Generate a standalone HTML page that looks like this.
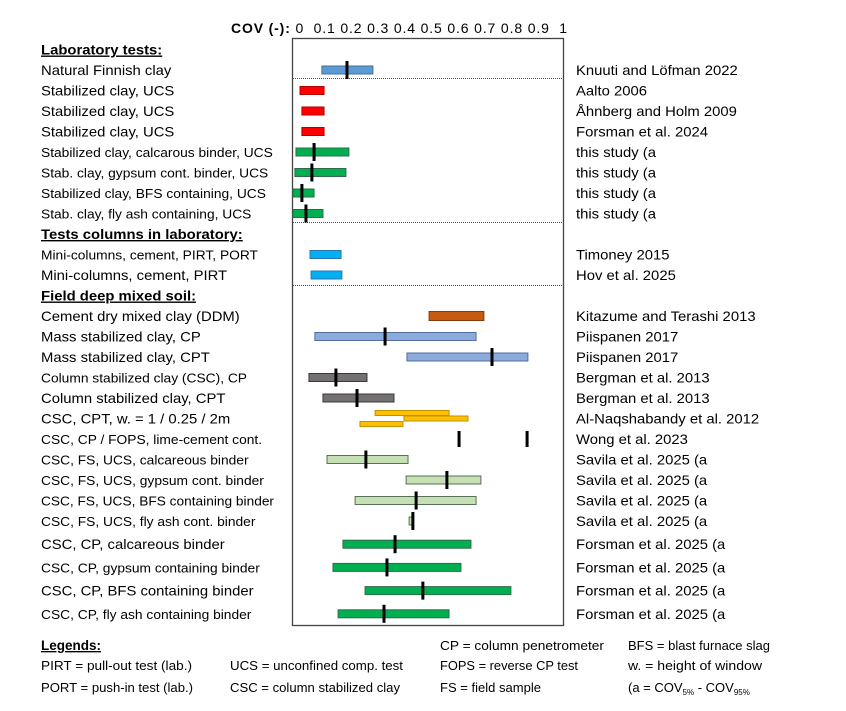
<!DOCTYPE html>
<html><head><meta charset="utf-8"><style>
html,body{margin:0;padding:0;background:#fff;}
svg{display:block;font-family:"Liberation Sans",sans-serif;}
</style></head><body>
<svg id="chart" width="846" height="711" viewBox="0 0 846 711">
<text x="231" y="33" font-size="14" textLength="336" lengthAdjust="spacing"><tspan font-weight="bold">COV (-):</tspan> 0 &#160;0.1 0.2 0.3 0.4 0.5 0.6 0.7 0.8 0.9 &#160;1</text>
<rect x="292.5" y="38.5" width="271" height="587" fill="none" stroke="#444" stroke-width="1.3"/>
<line x1="293" x2="563" y1="78.5" y2="78.5" stroke="#555" stroke-dasharray="1,1"/>
<line x1="293" x2="563" y1="222.5" y2="222.5" stroke="#555" stroke-dasharray="1,1"/>
<line x1="293" x2="563" y1="285.5" y2="285.5" stroke="#555" stroke-dasharray="1,1"/>
<g id="rows"></g>
<g id="marks"></g>
<g font-size="13">
<text x="41" y="650" font-weight="bold" text-decoration="underline" font-size="13.5">Legends:</text>
<text x="41" y="670" textLength="151" lengthAdjust="spacingAndGlyphs">PIRT = pull-out test (lab.)</text>
<text x="41" y="692" textLength="152" lengthAdjust="spacingAndGlyphs">PORT = push-in test (lab.)</text>
<text x="230" y="670" textLength="173" lengthAdjust="spacingAndGlyphs">UCS = unconfined comp. test</text>
<text x="230" y="692" textLength="170" lengthAdjust="spacingAndGlyphs">CSC = column stabilized clay</text>
<text x="440" y="650" textLength="164" lengthAdjust="spacingAndGlyphs">CP = column penetrometer</text>
<text x="440" y="670" textLength="138" lengthAdjust="spacingAndGlyphs">FOPS = reverse CP test</text>
<text x="440" y="692" textLength="101" lengthAdjust="spacingAndGlyphs">FS = field sample</text>
<text x="628" y="650" textLength="142" lengthAdjust="spacingAndGlyphs">BFS = blast furnace slag</text>
<text x="628" y="670" textLength="134" lengthAdjust="spacingAndGlyphs">w. = height of window</text>
<text x="628" y="692">(a = COV<tspan font-size="8" dy="3">5%</tspan><tspan dy="-3"> - COV</tspan><tspan font-size="8" dy="3">95%</tspan></text>
</g>
</svg>
<script>
const labels = ["Laboratory tests:","Natural Finnish clay","Stabilized clay, UCS","Stabilized clay, UCS","Stabilized clay, UCS","Stabilized clay, calcarous binder, UCS","Stab. clay, gypsum cont. binder, UCS","Stabilized clay, BFS containing, UCS","Stab. clay, fly ash containing, UCS","Tests columns in laboratory:","Mini-columns, cement, PIRT, PORT","Mini-columns, cement, PIRT","Field deep mixed soil:","Cement dry mixed clay (DDM)","Mass stabilized clay, CP","Mass stabilized clay, CPT","Column stabilized clay (CSC), CP","Column stabilized clay, CPT","CSC, CPT, w. = 1 / 0.25 / 2m","CSC, CP / FOPS, lime-cement cont.","CSC, FS, UCS, calcareous binder","CSC, FS, UCS, gypsum cont. binder","CSC, FS, UCS, BFS containing binder","CSC, FS, UCS, fly ash cont. binder","CSC, CP, calcareous binder","CSC, CP, gypsum containing binder","CSC, CP, BFS containing binder","CSC,  CP, fly ash containing binder"];
const refs = ["","Knuuti and Löfman 2022","Aalto 2006","Åhnberg and Holm 2009","Forsman et al. 2024","this study (a","this study (a","this study (a","this study (a","","Timoney 2015","Hov et al. 2025","","Kitazume and Terashi 2013","Piispanen 2017","Piispanen 2017","Bergman et al. 2013","Bergman et al. 2013","Al-Naqshabandy et al.  2012","Wong et al. 2023","Savila et al. 2025 (a","Savila et al. 2025 (a","Savila et al. 2025 (a","Savila et al. 2025 (a","Forsman et al. 2025 (a","Forsman et al. 2025 (a","Forsman et al. 2025 (a","Forsman et al. 2025 (a"];
const headings = [0,9,12];
const barRow  = [1,2,3,4,5,6,7,8,10,11,13,14,15,16,17,18,18,18,20,21,22,23,24,25,26,27];
const barLow  = [0.107,0.026,0.033,0.033,0.011,0.007,0.0,0.0,0.063,0.067,0.504,0.081,0.422,0.059,0.111,0.304,0.411,0.248,0.126,0.419,0.230,0.430,0.185,0.148,0.267,0.167];
const barHigh = [0.296,0.115,0.115,0.115,0.207,0.196,0.078,0.111,0.178,0.181,0.707,0.678,0.870,0.274,0.374,0.578,0.648,0.407,0.426,0.696,0.678,0.444,0.659,0.622,0.807,0.578];
const barMed  = [0.200,null,null,null,0.078,0.070,0.033,0.048,null,null,null,0.341,0.737,0.159,0.237,null,null,null,0.270,0.570,0.456,0.444,0.378,0.348,0.481,0.337];
const barGroup= ["natural","red","red","red","green","green","green","green","mini","mini","ddm","mass","mass","gray","gray","yellow","yellow","yellow","fs","fs","fs","fs","green","green","green","green"];
const barSub  = [0,0,0,0,0,0,0,0,0,0,0,0,0,0,0,-1,0,1,0,0,0,0,0,0,0,0];
const fopsRow = [19,19];
const fopsVal = [0.615,0.867];

const styles = {natural:["#5B9BD5","#41719C",8],red:["#FF0000","#B00000",8],green:["#00B050","#2F6B4A",8],mini:["#00B0F0","#2E75B6",8],ddm:["#C55A11","#843C0C",9],mass:["#8EA9DB","#4F6F9F",8],gray:["#767171","#3B3838",8],yellow:["#FFC000","#BF9000",5],fs:["#C5E0B4","#5A6E5A",8]};
const X0=293, X1=563;
function xs(v){return X0+v*(X1-X0);}
function ys(i){return i<=23 ? 49.5+i*20.5 : 521+(i-23)*23.2;}
const NS="http://www.w3.org/2000/svg";
const rowsG=document.getElementById('rows'), marksG=document.getElementById('marks');
function mk(tag,attrs,parent){const e=document.createElementNS(NS,tag);for(const k in attrs)e.setAttribute(k,attrs[k]);parent.appendChild(e);return e;}
labels.forEach((t,i)=>{
  const h=headings.includes(i);
  const el=mk('text',{x:41,y:ys(i)+5,'font-size':h?14:(t.length>30?13:14)},rowsG);
  if(h){el.setAttribute('font-weight','bold');el.setAttribute('text-decoration','underline');}
  el.textContent=t;
  
  
  const L=el.getComputedTextLength();
  el.setAttribute('textLength', Math.min(L*1.06, 233));
  el.setAttribute('lengthAdjust','spacingAndGlyphs');
  if(refs[i]){
    const r=mk('text',{x:576,y:ys(i)+5,'font-size':14},rowsG);
    r.textContent=refs[i];
    
    
    const R=r.getComputedTextLength();
    r.setAttribute('textLength', R*1.06);
    r.setAttribute('lengthAdjust','spacingAndGlyphs');
  }
});
barRow.forEach((ri,k)=>{
  const s=styles[barGroup[k]];
  const cy=ys(ri)+barSub[k]*5.5;
  const b=mk('rect',{x:xs(barLow[k]),y:cy-s[2]/2,width:Math.max(2,xs(barHigh[k])-xs(barLow[k])),height:s[2],fill:s[0],stroke:s[1],'stroke-width':1},marksG);
  
  
  if(barMed[k]!==null){
    const m=mk('line',{x1:xs(barMed[k]),x2:xs(barMed[k]),y1:cy-9,y2:cy+9,stroke:'#000','stroke-width':3},marksG);
    
    
  }
});
fopsRow.forEach((ri,k)=>{
  const cy=ys(ri);
  const m=mk('line',{x1:xs(fopsVal[k]),x2:xs(fopsVal[k]),y1:cy-8,y2:cy+8,stroke:'#000','stroke-width':3},marksG);
  
  
});
</script>
</body></html>
